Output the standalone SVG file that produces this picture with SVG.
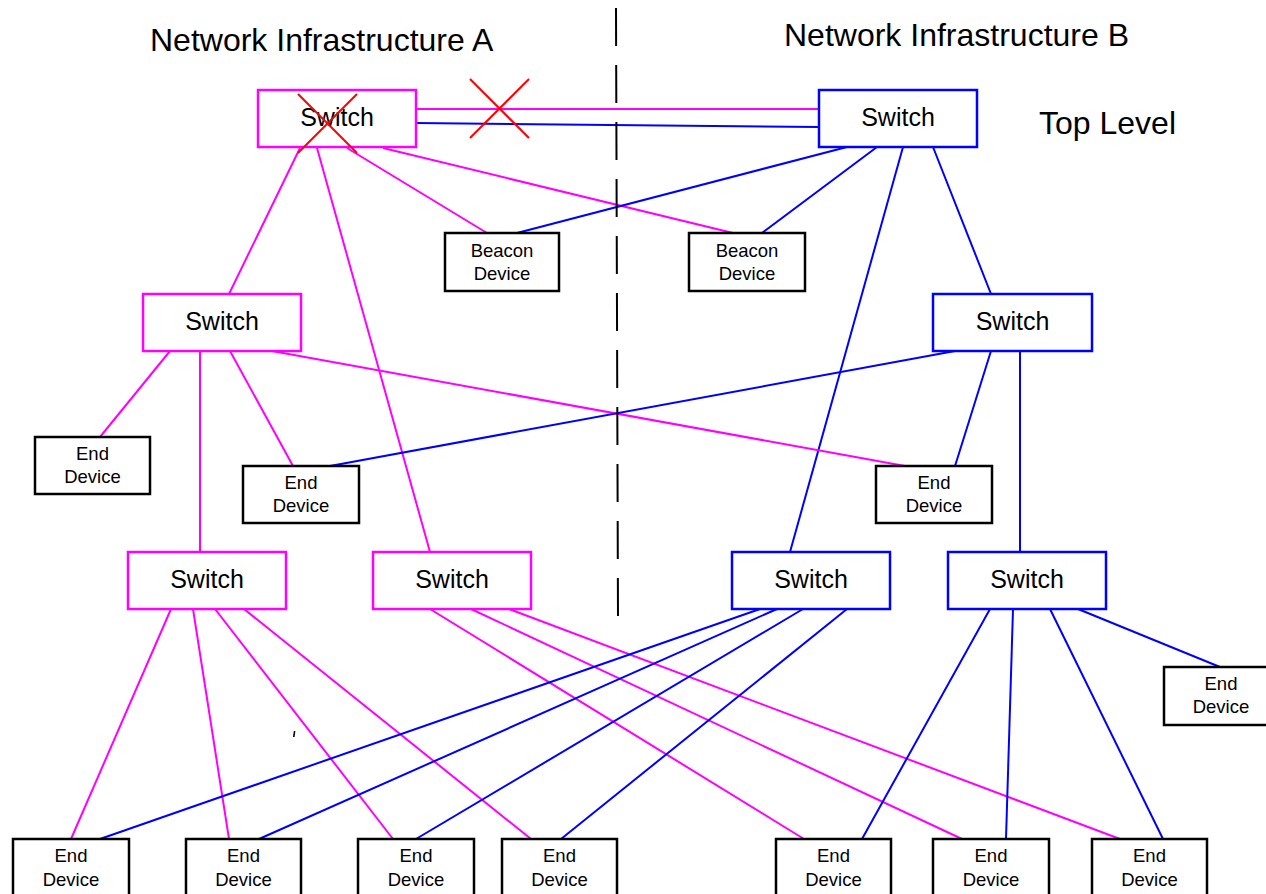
<svg xmlns="http://www.w3.org/2000/svg" width="1266" height="894" viewBox="0 0 1266 894">
<style>
.title{font-family:"Liberation Sans",Arial,sans-serif;font-size:32px;fill:#000}
.sw{font-family:"Liberation Sans",Arial,sans-serif;font-size:25px;fill:#000;text-anchor:middle}
.dv{font-family:"Liberation Sans",Arial,sans-serif;font-size:18.5px;fill:#000;text-anchor:middle}
.swA{fill:#fff;stroke:#ff00ff;stroke-width:2.5}
.swB{fill:#fff;stroke:#0000ff;stroke-width:2.5}
.box{fill:#fff;stroke:#000;stroke-width:2.5}
.m{stroke:#ff00ff;stroke-width:2;fill:none}
.b{stroke:#0000ff;stroke-width:2;fill:none}
.x{stroke:#ff0000;stroke-width:2;fill:none}
</style>
<rect width="1266" height="894" fill="#fff"/>
<g id="labels">
<text class="title" x="150" y="51">Network Infrastructure A</text>
<text class="title" x="784" y="46">Network Infrastructure B</text>
<text class="title" x="1039" y="134">Top Level</text>
</g>
<g id="connectors">
<line class="m" x1="416" y1="109" x2="819" y2="109"/>
<line class="b" x1="416" y1="123" x2="819" y2="127"/>
<line class="m" x1="300" y1="148" x2="229" y2="294"/>
<line class="m" x1="317" y1="148" x2="430" y2="552"/>
<line class="m" x1="347" y1="148" x2="487" y2="233"/>
<line class="m" x1="383" y1="148" x2="733" y2="233"/>
<line class="b" x1="847" y1="147" x2="517" y2="233"/>
<line class="b" x1="877" y1="147" x2="762" y2="233"/>
<line class="b" x1="903" y1="147" x2="790" y2="552"/>
<line class="b" x1="933" y1="147" x2="991" y2="294"/>
<line class="m" x1="170" y1="351" x2="100" y2="437"/>
<line class="m" x1="200" y1="351" x2="200" y2="552"/>
<line class="m" x1="230" y1="351" x2="293" y2="466"/>
<line class="m" x1="272" y1="351" x2="905" y2="466"/>
<line class="b" x1="955" y1="351" x2="330" y2="466"/>
<line class="b" x1="991" y1="351" x2="955" y2="466"/>
<line class="b" x1="1020" y1="351" x2="1020" y2="552"/>
<line class="m" x1="171" y1="609" x2="71" y2="839"/>
<line class="m" x1="193" y1="609" x2="229" y2="839"/>
<line class="m" x1="215" y1="609" x2="393" y2="839"/>
<line class="m" x1="244" y1="609" x2="531" y2="839"/>
<line class="m" x1="430" y1="609" x2="804" y2="839"/>
<line class="m" x1="471" y1="609" x2="962" y2="839"/>
<line class="m" x1="509" y1="609" x2="1120" y2="839"/>
<line class="b" x1="760" y1="609" x2="100" y2="839"/>
<line class="b" x1="777" y1="609" x2="259" y2="839"/>
<line class="b" x1="803" y1="609" x2="416" y2="839"/>
<line class="b" x1="847" y1="609" x2="561" y2="839"/>
<line class="b" x1="990" y1="609" x2="862" y2="839"/>
<line class="b" x1="1013" y1="609" x2="1006" y2="839"/>
<line class="b" x1="1050" y1="609" x2="1163" y2="839"/>
<line class="b" x1="1078" y1="609" x2="1220" y2="667"/>
</g>
<g id="divider">
<line x1="616" y1="8" x2="618" y2="620" stroke="#000" stroke-width="2" stroke-dasharray="38 19"/>
</g>
<g id="switch-a-top"><rect class="swA" x="258" y="90" width="158" height="57"/><text class="sw" x="337" y="126">Switch</text></g>
<g id="switch-b-top"><rect class="swB" x="819" y="90" width="158" height="57"/><text class="sw" x="898" y="126">Switch</text></g>
<g id="switch-a-mid"><rect class="swA" x="143" y="294" width="158" height="57"/><text class="sw" x="222" y="330">Switch</text></g>
<g id="switch-b-mid"><rect class="swB" x="933" y="294" width="159" height="57"/><text class="sw" x="1012.5" y="330">Switch</text></g>
<g id="switch-a-low1"><rect class="swA" x="128" y="552" width="158" height="57"/><text class="sw" x="207" y="588">Switch</text></g>
<g id="switch-a-low2"><rect class="swA" x="373" y="552" width="158" height="57"/><text class="sw" x="452" y="588">Switch</text></g>
<g id="switch-b-low1"><rect class="swB" x="732" y="552" width="158" height="57"/><text class="sw" x="811" y="588">Switch</text></g>
<g id="switch-b-low2"><rect class="swB" x="948" y="552" width="158" height="57"/><text class="sw" x="1027" y="588">Switch</text></g>
<g id="beacon-1"><rect class="box" x="445" y="233" width="114" height="58"/><text class="dv" x="502" y="257">Beacon</text><text class="dv" x="502" y="280">Device</text></g>
<g id="beacon-2"><rect class="box" x="689" y="233" width="116" height="58"/><text class="dv" x="747" y="257">Beacon</text><text class="dv" x="747" y="280">Device</text></g>
<g id="end-1"><rect class="box" x="35" y="437" width="115" height="57"/><text class="dv" x="92.5" y="460">End</text><text class="dv" x="92.5" y="483">Device</text></g>
<g id="end-2"><rect class="box" x="243" y="466" width="116" height="57"/><text class="dv" x="301" y="489">End</text><text class="dv" x="301" y="512">Device</text></g>
<g id="end-3"><rect class="box" x="876" y="466" width="116" height="57"/><text class="dv" x="934" y="489">End</text><text class="dv" x="934" y="512">Device</text></g>
<g id="end-4"><rect class="box" x="1164" y="667" width="115" height="58"/><text class="dv" x="1221" y="690">End</text><text class="dv" x="1221" y="713">Device</text></g>
<g id="end-b1"><rect class="box" x="13" y="839" width="116" height="58"/><text class="dv" x="71" y="862">End</text><text class="dv" x="71" y="886">Device</text></g>
<g id="end-b2"><rect class="box" x="186" y="839" width="115" height="58"/><text class="dv" x="243.5" y="862">End</text><text class="dv" x="243.5" y="886">Device</text></g>
<g id="end-b3"><rect class="box" x="358" y="839" width="116" height="58"/><text class="dv" x="416" y="862">End</text><text class="dv" x="416" y="886">Device</text></g>
<g id="end-b4"><rect class="box" x="502" y="839" width="115" height="58"/><text class="dv" x="559.5" y="862">End</text><text class="dv" x="559.5" y="886">Device</text></g>
<g id="end-b5"><rect class="box" x="776" y="839" width="115" height="58"/><text class="dv" x="833.5" y="862">End</text><text class="dv" x="833.5" y="886">Device</text></g>
<g id="end-b6"><rect class="box" x="933" y="839" width="116" height="58"/><text class="dv" x="991" y="862">End</text><text class="dv" x="991" y="886">Device</text></g>
<g id="end-b7"><rect class="box" x="1092" y="839" width="115" height="58"/><text class="dv" x="1149.5" y="862">End</text><text class="dv" x="1149.5" y="886">Device</text></g>
<g id="failure-marks">
<line class="x" x1="298" y1="94" x2="357" y2="153"/>
<line class="x" x1="357" y1="94" x2="298" y2="153"/>
<line class="x" x1="470" y1="79" x2="529" y2="138"/>
<line class="x" x1="529" y1="79" x2="470" y2="138"/>
</g>
<g id="stray-mark">
<line x1="294.6" y1="731" x2="293.8" y2="737" stroke="#000" stroke-width="1.6"/>
</g>
</svg>
